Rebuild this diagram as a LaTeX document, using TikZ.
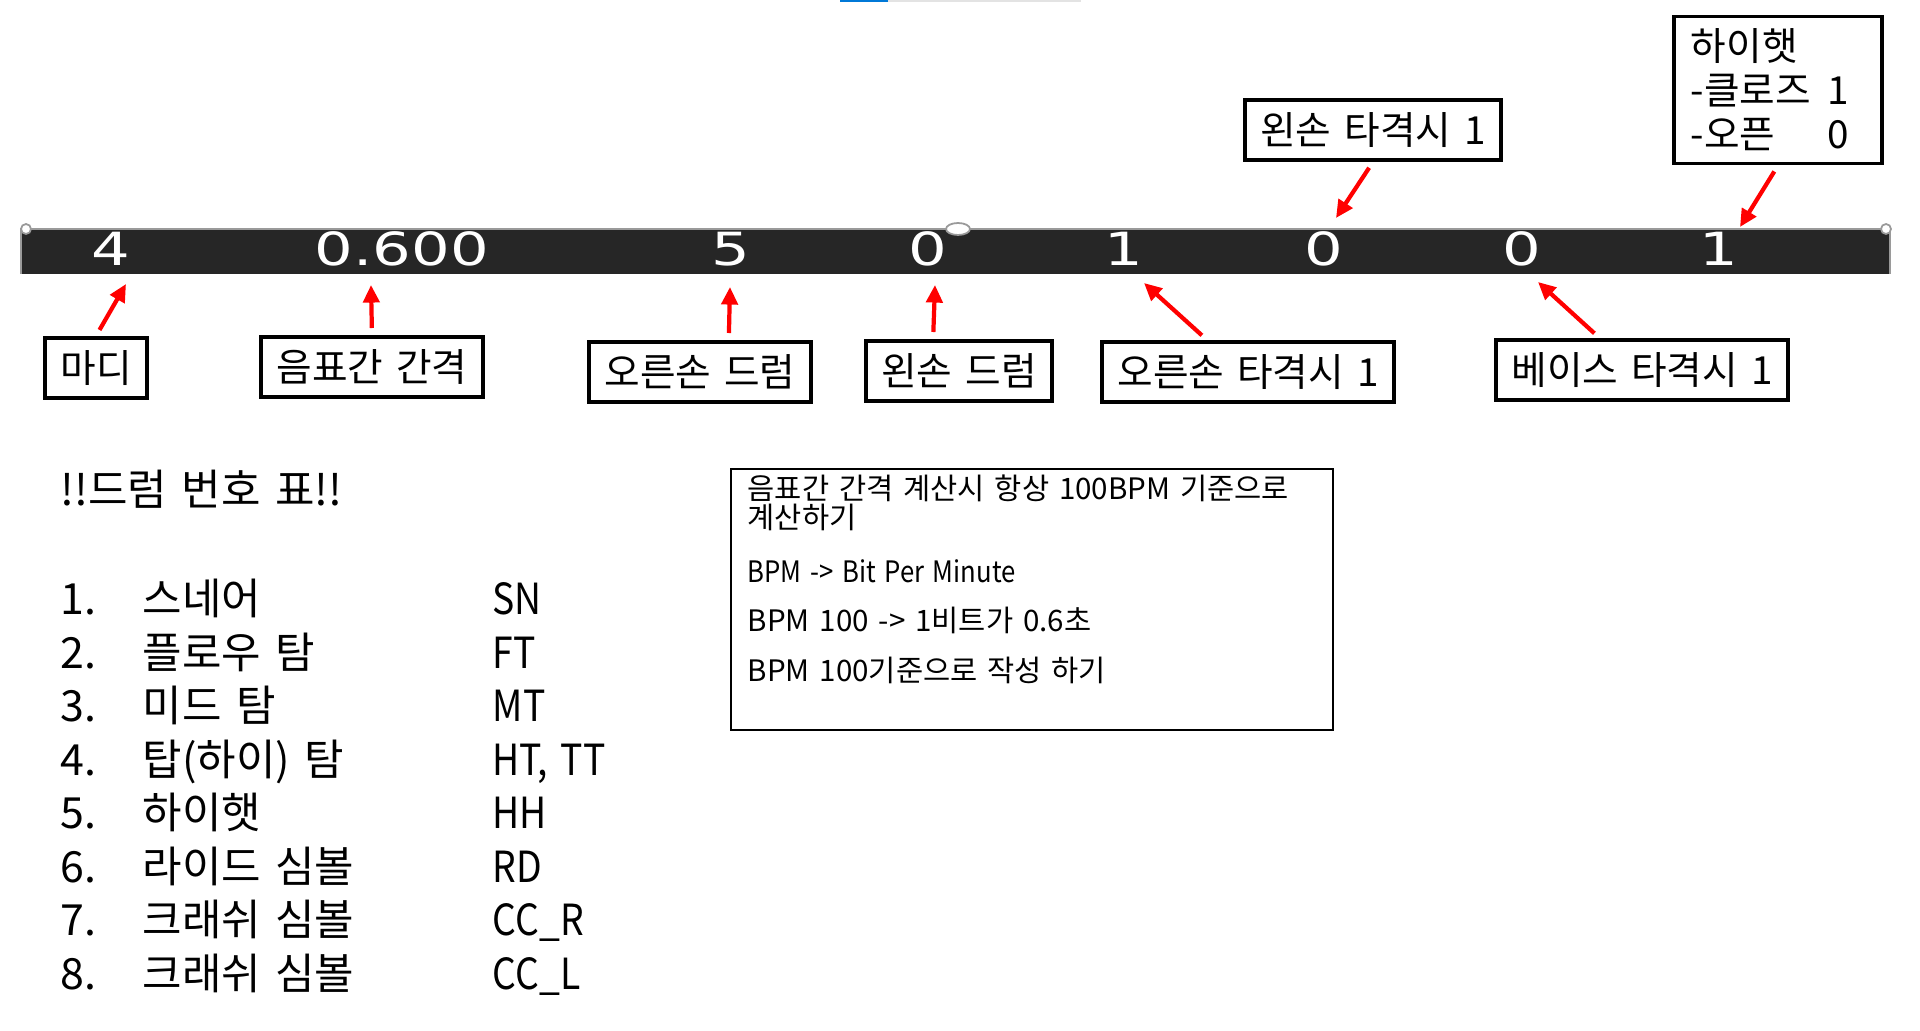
\documentclass[tikz,border=0pt]{standalone}
\usepackage{fontspec}
\setmainfont[WordSpace=1.5]{Noto Sans CJK KR}
\newfontfamily\narrowfont[WordSpace=1.5, FakeStretch=0.87]{Noto Sans CJK KR}
\newfontfamily\barfont[FakeStretch=1.33]{DejaVu Sans}
\usetikzlibrary{arrows.meta}
\definecolor{bardark}{HTML}{262626}
\definecolor{baredge}{HTML}{9A9A9A}
\definecolor{tabblue}{HTML}{0078D7}
\definecolor{tabgray}{HTML}{E3E3E3}
\begin{document}
\begin{tikzpicture}[x=0.01cm, y=-0.01cm,
  labelbox/.style={draw, line width=1.1pt, inner xsep=4.3pt, minimum height=0.6cm,
    font=\fontsize{11}{12.5}\selectfont},
  pointer/.style={red, line width=1.2pt, -{Triangle[length=5pt,width=4.6pt]}, shorten <=2pt},
  barnum/.style={white, inner sep=0pt, font=\barfont\fontsize{13}{15}\selectfont},
  listtext/.style={anchor=base west, inner sep=0pt, font=\fontsize{12.2}{14}\selectfont},
  listcode/.style={listtext, font=\narrowfont\fontsize{12.2}{14}\selectfont},
  infotext/.style={anchor=base west, inner sep=0pt, font=\fontsize{8.4}{10}\selectfont}]
  \useasboundingbox (0,0) rectangle (1920,1031);

  % tab strip at the top
  \fill[tabblue] (840,0) rectangle (888,2);
  \fill[tabgray] (888,0) rectangle (1081,2);

  % the value bar
  \fill[bardark] (21,228) rectangle (1890,274);
  \draw[baredge, line width=0.6pt] (21,274) -- (21,229) -- (1890,229) -- (1890,274);
  \draw[baredge, fill=white, line width=0.5pt] (958,229) ellipse [x radius=12, y radius=6];
  \draw[baredge, fill=white, line width=0.5pt] (26,229) circle [radius=5];
  \draw[baredge, fill=white, line width=0.5pt] (1886,229) circle [radius=5];

  \node[barnum] (madival) at (111,249) {4};
  \node[barnum] (gapval) at (402,249) {0.600};
  \node[barnum] (rdrumval) at (731,249) {5};
  \node[barnum] (ldrumval) at (928,249) {0};
  \node[barnum] (rhitval) at (1124,249) {1};
  \node[barnum] (lhitval) at (1324,249) {0};
  \node[barnum] (bhitval) at (1522,249) {0};
  \node[barnum] (hihatval) at (1719,249) {1};

  \coordinate (madip) at (126,284);
  \coordinate (gapp) at (371,285);
  \coordinate (rdrump) at (730,287);
  \coordinate (ldrump) at (935,285);
  \coordinate (rhitp) at (1144,283);
  \coordinate (bhitp) at (1538,282);
  \coordinate (lhitp) at (1336,218);
  \coordinate (hihatp) at (1740,227);

  % label boxes
  \node[labelbox] (madi) at (96,368) {마디};
  \node[labelbox] (gap) at (372,367) {음표간 간격};
  \node[labelbox] (rdrum) at (700,372) {오른손 드럼};
  \node[labelbox] (ldrum) at (959,371) {왼손 드럼};
  \node[labelbox] (rhit) at (1248,372) {오른손 타격시 1};
  \node[labelbox] (bhit) at (1642,370) {베이스 타격시 1};
  \node[labelbox] (lhit) at (1373,130) {왼손 타격시 1};
  \node[labelbox, inner xsep=0pt, minimum width=2.08cm, minimum height=1.47cm, align=left,
    font=\fontsize{11}{12.5}\selectfont] (hihat) at (1778,90)
    {\makebox[1.74cm][l]{하이햇}\\
     \makebox[1.74cm][l]{\makebox[1.36cm][l]{-클로즈}1}\\
     \makebox[1.74cm][l]{\makebox[1.36cm][l]{-오픈}0}};

  \draw[pointer] (madi.north) -- (madip);
  \draw[pointer] (gap.north) -- (gapp);
  \draw[pointer] (rdrum.48) -- (rdrump);
  \draw[pointer] (ldrum.129) -- (ldrump);
  \draw[pointer] (rhit.142) -- (rhitp);
  \draw[pointer] (bhit.143) -- (bhitp);
  \draw[pointer] (lhit.south) -- (lhitp);
  \draw[pointer] (hihat.south) -- (hihatp);

  % drum number table
  \node[listtext] (title) at (60,506) {!!드럼 번호 표!!};
  \node[listtext] (no1) at (60,615) {1.};
  \node[listtext] (nm1) at (142,615) {스네어};
  \node[listcode] (cd1) at (492,615) {SN};
  \node[listtext] (no2) at (60,668.5) {2.};
  \node[listtext] (nm2) at (142,668.5) {플로우 탐};
  \node[listcode] (cd2) at (492,668.5) {FT};
  \node[listtext] (no3) at (60,722) {3.};
  \node[listtext] (nm3) at (142,722) {미드 탐};
  \node[listcode] (cd3) at (492,722) {MT};
  \node[listtext] (no4) at (60,775.5) {4.};
  \node[listtext] (nm4) at (142,775.5) {탑(하이) 탐};
  \node[listcode] (cd4) at (492,775.5) {HT, TT};
  \node[listtext] (no5) at (60,829) {5.};
  \node[listtext] (nm5) at (142,829) {하이햇};
  \node[listcode] (cd5) at (492,829) {HH};
  \node[listtext] (no6) at (60,882.5) {6.};
  \node[listtext] (nm6) at (142,882.5) {라이드 심볼};
  \node[listcode] (cd6) at (492,882.5) {RD};
  \node[listtext] (no7) at (60,936) {7.};
  \node[listtext] (nm7) at (142,936) {크래쉬 심볼};
  \node[listcode] (cd7) at (492,936) {CC\_R};
  \node[listtext] (no8) at (60,989.5) {8.};
  \node[listtext] (nm8) at (142,989.5) {크래쉬 심볼};
  \node[listcode] (cd8) at (492,989.5) {CC\_L};

  % note box
  \node[draw, line width=0.6pt, inner sep=0pt, minimum width=6.02cm, minimum height=2.61cm] (info) at (1032,599.5) {};
  \node[infotext] (info1) at (747,500) {음표간 간격 계산시 항상 100BPM 기준으로};
  \node[infotext] (info2) at (747,529) {계산하기};
  \node[infotext, font=\narrowfont\fontsize{8.4}{10}\selectfont] (info3) at (747,583) {BPM -> Bit Per Minute};
  \node[infotext] (info4) at (747,632) {BPM 100 -> 1비트가 0.6초};
  \node[infotext] (info5) at (747,682) {BPM 100기준으로 작성 하기};
\end{tikzpicture}
\end{document}
